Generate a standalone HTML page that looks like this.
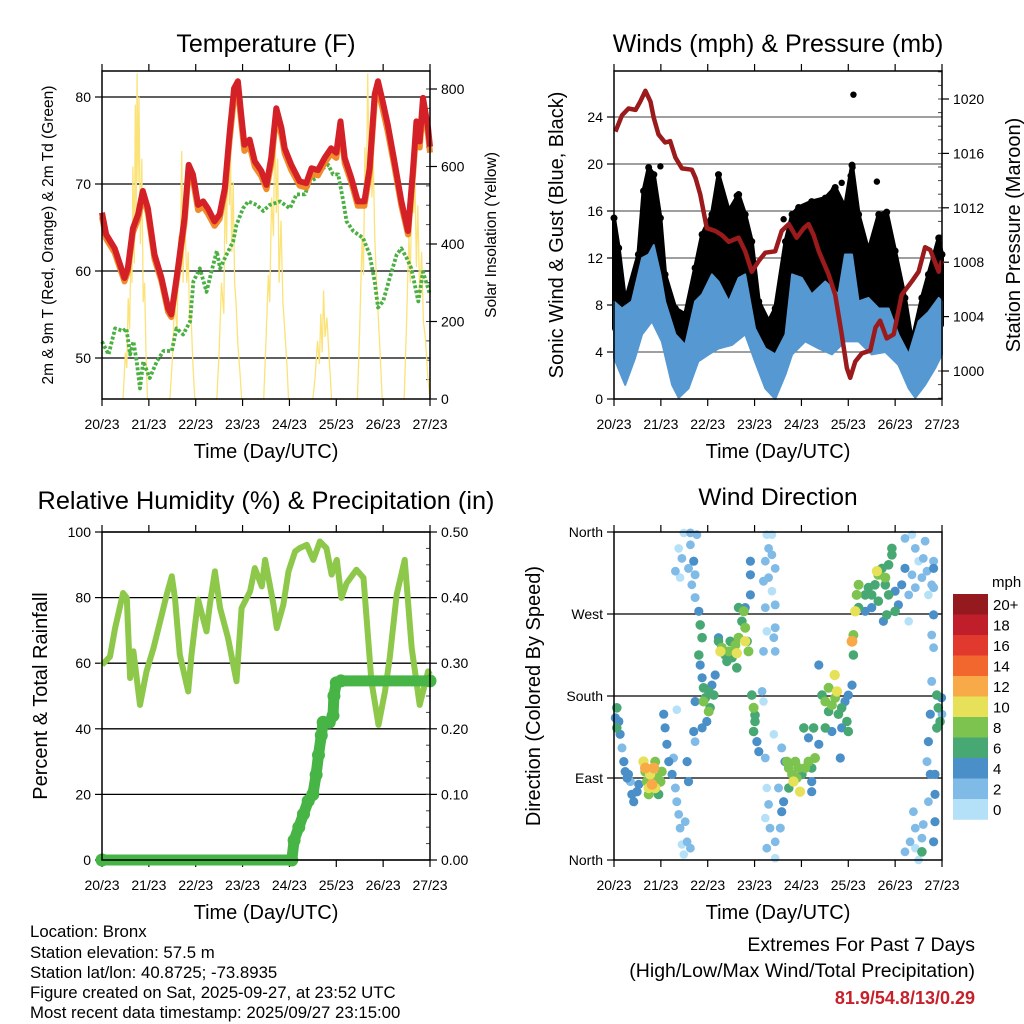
<!DOCTYPE html>
<html><head><meta charset="utf-8">
<style>
html,body{margin:0;padding:0;background:#fff;}
svg{display:block;font-family:"Liberation Sans",Arial,sans-serif;}
</style></head>
<body>
<svg id="chart" xmlns="http://www.w3.org/2000/svg" width="1024" height="1024" viewBox="0 0 1024 1024">
<rect width="1024" height="1024" fill="#fff"/>
<g id="g-temp"></g>
<g id="g-wind"></g>
<g id="g-rh"></g>
<g id="g-dir"></g>
<g font-size="16.8" fill="#000">
<text x="30" y="937">Location: Bronx</text>
<text x="30" y="958">Station elevation: 57.5 m</text>
<text x="30" y="978">Station lat/lon: 40.8725; -73.8935</text>
<text x="30" y="998">Figure created on Sat, 2025-09-27, at 23:52 UTC</text>
<text x="30" y="1018">Most recent data timestamp: 2025/09/27 23:15:00</text>
</g>
<g text-anchor="end">
<text x="975" y="951" font-size="19.5">Extremes For Past 7 Days</text>
<text x="975" y="977" font-size="19.5">(High/Low/Max Wind/Total Precipitation)</text>
<text x="975" y="1004" font-size="18" font-weight="bold" fill="#c8202b">81.9/54.8/13/0.29</text>
</g>
</svg>
<script>
// ---------- data ----------
const dayTicks = ["20/23","21/23","22/23","23/23","24/23","25/23","26/23","27/23"];
// Temperature
const tDay = [0,0.09,0.27,0.48,0.55,0.66,0.77,0.87,0.98,1.12,1.27,1.41,1.48,1.62,1.76,1.85,1.94,2.05,2.16,2.26,2.40,2.51,2.62,2.72,2.82,2.90,2.97,3.04,3.15,3.26,3.40,3.51,3.61,3.72,3.83,3.90,4.04,4.22,4.36,4.47,4.61,4.75,4.89,5.00,5.09,5.18,5.32,5.46,5.60,5.71,5.82,5.89,5.99,6.10,6.24,6.39,6.53,6.64,6.71,6.78,6.85,6.96,7.0];
const t2m = [66.7,64.2,62.6,59.2,60.3,64.9,66.5,69.2,67.2,61.9,59.2,55.7,55,60.3,66.1,72.2,71.1,67.6,68,67.2,65.7,66.5,69.5,75.7,81,81.8,78,74.5,75.1,72.6,71.5,69.9,73,78.7,76.4,74.1,72.2,70.3,70.1,71.8,71.6,73,74.1,73.6,77.2,73,70.7,68,68,71.8,80.3,81.8,79.5,76.8,72.6,68,64.6,71.8,77.2,74.9,79.9,76.4,74.3];
const t9m = [66.2,63.7,62.1,58.8,59.9,64.4,66,68.6,66.7,61.4,58.8,55.3,54.7,59.8,65.5,71.5,70.5,67,67.4,66.6,65.2,66,69,74.9,80,80.8,77.1,73.8,74.4,72,70.9,69.4,72.3,77.9,75.6,73.5,71.6,69.8,69.6,71.2,71,72.4,73.5,73,76.5,72.4,70.2,67.5,67.5,71.2,79.4,80.8,78.6,76,72,67.5,64.2,71.1,76.4,74.2,79,75.6,73.6];
const tdDay = [0,0.14,0.28,0.45,0.52,0.6,0.67,0.74,0.81,0.88,1.02,1.17,1.31,1.49,1.59,1.73,1.88,1.95,2.09,2.23,2.34,2.45,2.52,2.66,2.80,2.87,3.01,3.12,3.30,3.44,3.58,3.80,4.01,4.15,4.33,4.44,4.58,4.72,4.83,4.93,5.04,5.15,5.22,5.36,5.57,5.71,5.82,5.89,6.0,6.14,6.29,6.39,6.50,6.60,6.75,6.85,6.96,7.0];
const tdVal = [51.9,50.4,53.4,53.1,53.4,50.4,51.9,49.6,46.5,49.6,47.7,49.6,50.8,50.8,53.4,52.7,54.2,58.8,60.3,57.6,60,62.3,60.3,61.9,63.4,65.3,67.2,68,67.6,66.9,67.6,68,67.2,68.8,68.8,70.3,70.7,71.8,72.2,71.1,71.1,68,65.7,64.6,63.8,61.9,58.8,55.8,56.5,59.2,61.9,62.6,61.5,60.3,56.5,59.9,58,57.3];
const solDay = [0.45,0.5,0.53,0.56,0.59,0.62,0.64,0.66,0.69,0.71,0.73,0.75,0.77,0.79,0.82,0.85,0.88,0.91,0.94,0.97,
 1.45,1.5,1.55,1.6,1.64,1.67,1.7,1.73,1.76,1.78,1.81,1.84,1.87,1.9,1.94,1.98,
 2.45,2.5,2.55,2.6,2.63,2.66,2.69,2.72,2.74,2.77,2.8,2.83,2.86,2.9,2.95,2.98,
 3.45,3.5,3.55,3.58,3.62,3.66,3.69,3.72,3.75,3.78,3.82,3.86,3.9,3.95,3.98,
 4.5,4.55,4.6,4.64,4.67,4.7,4.73,4.76,4.8,4.85,4.9,
 5.45,5.5,5.55,5.58,5.61,5.64,5.67,5.7,5.73,5.76,5.79,5.82,5.86,5.9,5.95,5.98,
 6.45,6.5,6.55,6.58,6.62,6.65,6.68,6.71,6.74,6.78,6.82,6.86,6.9,6.95,7.0];
const solVal = [0,120,80,260,180,420,300,600,350,760,480,840,560,780,400,620,250,300,120,0,
 0,100,250,180,420,350,640,300,560,420,300,380,200,220,90,0,
 0,120,300,220,560,400,720,500,650,380,560,300,250,140,60,0,
 0,150,320,250,520,420,740,480,620,300,460,250,180,80,0,
 0,60,150,90,220,120,280,160,210,100,0,
 0,180,420,320,650,500,840,600,720,520,620,420,300,200,80,0,
 0,200,420,300,610,480,560,340,500,260,380,200,160,60,0];
// Winds & pressure
const pDay = [0.03,0.17,0.31,0.46,0.56,0.67,0.78,0.85,0.95,1.09,1.20,1.31,1.45,1.66,1.74,1.84,1.98,2.16,2.30,2.45,2.66,2.80,2.94,3.09,3.23,3.44,3.58,3.73,3.90,4.05,4.15,4.26,4.37,4.58,4.72,4.86,4.97,5.04,5.15,5.29,5.47,5.58,5.68,5.82,5.97,6.14,6.36,6.50,6.64,6.75,6.93,7.0];
const pVal = [1017.6,1018.8,1019.3,1019.2,1019.8,1020.6,1019.8,1018.6,1017.4,1016.8,1016.9,1015.7,1014.9,1014.8,1014.2,1013,1010.5,1010.3,1010.0,1009.5,1009.8,1008.8,1007.3,1008.1,1008.7,1008.8,1010.3,1010.8,1009.8,1010.5,1010.8,1010.0,1008.8,1007.1,1005.6,1002.7,1000.2,999.5,1000.7,1001.3,1001.5,1003.2,1003.7,1002.4,1002.7,1005.6,1006.6,1007.3,1009.1,1008.9,1007.3,1008.1];
const wHiDay = [0,0.17,0.38,0.6,0.74,0.85,0.99,1.09,1.31,1.52,1.73,1.88,2.09,2.23,2.45,2.66,2.80,3.01,3.23,3.44,3.66,3.80,4.01,4.22,4.51,4.79,4.93,5.08,5.22,5.43,5.65,5.86,6.07,6.29,6.50,6.71,6.93,7.0];
const wHiVal = [8.3,7.7,8.3,12,12.3,13.1,10.6,8.3,5.5,4.6,8.3,8.9,10.6,10,8.3,10.3,10.6,6.0,4.3,3.8,5.5,10.6,10.3,8.9,10,8.9,12.3,12.3,8.3,8.6,7.7,7.7,5.5,3.8,6.6,7.4,8.6,8.3];
const wLoDay = [0,0.24,0.45,0.6,0.81,1.02,1.24,1.38,1.59,1.80,2.02,2.23,2.52,2.80,3.01,3.23,3.44,3.66,3.80,4.08,4.37,4.65,4.93,5.22,5.50,5.79,6.07,6.29,6.43,6.64,6.85,7.0];
const wLoVal = [3.5,1.2,3.5,5.5,6.6,4.9,1.2,0.1,0.9,3.2,3.8,4.3,4.6,5.5,3.2,0.9,0,2.1,3.8,4.9,4.3,3.8,4.9,4.9,3.8,4.0,2.9,0.9,0.1,1.2,2.6,3.8];
const gDay = [0,0.1,0.24,0.52,0.63,0.74,0.85,0.99,1.09,1.31,1.52,1.73,1.88,2.09,2.23,2.45,2.66,2.80,2.94,3.09,3.30,3.44,3.66,3.80,3.94,4.22,4.51,4.72,4.93,5.08,5.22,5.43,5.65,5.82,6.0,6.21,6.36,6.57,6.71,6.93,7.0];
const gVal = [15.4,12.85,8.3,12.3,17.7,19.7,19.1,15.4,10.6,7.7,7.2,11.15,14,15.7,19.1,16,17.4,15.7,13.4,8.3,6.6,7.7,13.4,15.7,16.3,16.8,17.1,18,16.3,19.9,15.7,12.6,15.7,15.9,12.6,8.6,4.9,8.6,10.6,13.7,12.3];
const gOutDay = [5.11,5.61,4.86,4.69,5.09,5.05,2.27,2.62,0.99,3.62];
const gOutVal = [25.9,18.5,18.4,17.8,19.7,19.0,18.0,17.3,19.8,15.3];
// Humidity & precip
const rhDay = [0,0.17,0.28,0.45,0.53,0.60,0.67,0.81,0.95,1.10,1.24,1.38,1.49,1.56,1.66,1.84,1.91,2.05,2.23,2.30,2.41,2.52,2.69,2.87,2.98,3.16,3.26,3.41,3.48,3.66,3.73,3.87,3.98,4.12,4.22,4.37,4.51,4.65,4.79,4.90,5.01,5.11,5.22,5.43,5.58,5.75,5.90,6.04,6.14,6.29,6.46,6.61,6.78,6.96,7.0];
const rhVal = [59.5,62,70.7,81.4,79.9,55.5,63.6,47.3,57.5,64.6,72.7,80.9,86.5,79.4,62.6,51.4,62.6,79.4,69.7,77.8,88,76.8,67.7,54.5,76.8,81.9,89,83.4,91.5,77.8,70.7,77.8,88,94.1,95.1,96.1,91.5,97.1,95.1,87,91.5,79.9,84.4,88.5,86,54.5,41.2,51.4,61.6,80.9,91.5,64.6,47.3,57.5,56.5];
const prDay = [0,4.05,4.1,4.2,4.3,4.4,4.5,4.57,4.62,4.68,4.72,4.85,4.93,4.95,5.0,5.1,7.0];
const prVal = [0,0,0.03,0.05,0.07,0.09,0.10,0.13,0.16,0.19,0.21,0.21,0.22,0.25,0.27,0.273,0.273];
// Wind direction
const dirDay = [0.06,0.06,0.10,0.03,0.13,0.17,0.21,0.24,0.28,0.31,0.35,0.38,0.42,0.49,0.53,
0.63,0.67,0.70,0.74,0.77,0.81,0.85,0.88,0.92,0.95,0.99,1.02,0.67,0.88,0.74,
1.06,1.09,1.13,1.17,1.24,1.27,1.31,1.34,1.38,1.41,1.45,1.49,1.56,1.63,1.52,1.59,1.56,1.34,
1.49,1.63,1.38,1.45,1.31,1.41,1.59,1.66,1.73,1.63,1.70,1.73,1.77,
1.81,1.84,1.88,1.81,1.84,1.88,1.91,1.95,2.02,2.09,2.05,1.98,1.88,1.70,2.13,1.91,2.02,2.16,1.73,1.73,
2.23,2.30,2.37,2.45,2.52,2.59,2.66,2.73,2.80,2.84,2.87,2.66,2.62,2.27,2.62,2.48,2.41,2.80,2.77,2.23,2.80,
2.91,2.91,2.91,2.94,2.98,3.01,2.98,3.05,3.09,3.01,3.16,3.23,3.19,
3.26,3.30,3.23,3.37,3.44,3.30,3.37,3.44,3.19,3.44,3.41,3.44,3.23,3.26,3.19,3.37,
3.26,3.30,3.23,3.33,3.26,3.44,3.44,3.55,3.58,3.51,3.62,3.65,3.58,3.41,
3.69,3.73,3.80,3.87,3.94,3.83,3.97,3.90,3.73,4.01,4.08,4.15,4.22,4.29,4.22,4.22,4.26,4.05,4.37,4.15,
4.44,4.51,4.58,4.65,4.72,4.76,4.71,4.79,4.86,4.93,4.97,5.00,5.08,4.51,4.65,4.83,4.86,5.00,4.37,4.58,
5.08,5.11,5.11,5.15,5.22,5.18,5.22,5.36,5.43,5.50,5.57,5.64,5.61,5.72,5.79,5.86,5.93,5.93,5.79,5.64,5.50,5.36,5.86,6.00,6.07,6.00,5.75,5.82,6.14,6.21,
6.21,6.36,6.43,6.50,6.36,6.64,6.60,6.68,6.78,6.82,6.71,6.29,6.43,6.57,6.29,6.82,6.82,
6.82,6.78,6.82,6.78,6.75,6.71,6.68,6.75,6.85,6.89,6.92,6.99,6.96,6.89,7.0,
6.39,6.43,6.32,6.21,6.43,6.57,6.60,6.71,6.85,6.85,6.82,6.57,6.50];
const dirDeg = [167,145,152,156,138,123,108,97,90,94,86,72,64,75,83,
108,97,86,72,94,83,101,79,90,72,86,97,101,108,79,
160,145,127,108,94,112,79,64,50,35,17,6,20,13,42,86,108,165,
359,359,342,331,317,310,320,302,313,346,328,288,357,
273,258,244,225,214,200,189,178,185,192,167,152,145,141,181,174,163,203,174,130,
240,233,225,229,222,236,244,262,255,240,229,277,211,229,227,240,218,240,273,244,277,
328,313,291,181,167,152,141,130,119,159,185,112,174,
357,342,328,335,320,310,295,280,306,255,244,229,277,251,229,357,
79,61,46,35,13,2,20,35,53,79,64,108,123,138,
108,101,94,108,101,86,75,90,79,94,101,108,101,112,86,75,145,145,127,134,
181,174,163,170,178,185,203,160,167,174,152,181,192,145,141,112,145,141,214,189,
240,247,225,273,277,291,302,291,299,291,302,313,317,320,310,324,335,342,302,284,277,273,291,295,280,273,262,269,302,320,
353,357,342,328,313,350,331,317,302,328,291,291,299,310,262,320,299,
269,247,233,196,160,130,108,94,94,145,167,178,152,181,160,
53,35,20,9,13,24,39,64,72,42,20,9,0];
const dirSpd = [6,6,5,4,4,3,4,4,4,4,3,4,4,5,4,
10,9,8,8,10,12,12,10,8,7,9,8,12,8,10,
4,4,4,4,4,3,3,3,2,2,1,1,2,2,2,4,4,1,
1,2,1,2,2,1,3,2,3,2,4,3,2,
4,6,6,6,4,4,6,6,6,4,6,4,4,4,6,8,8,4,4,2,
6,8,6,8,6,8,8,6,8,6,8,6,6,10,10,6,6,10,8,4,4,
4,4,4,6,8,6,6,4,4,6,2,2,1,
1,2,2,2,2,2,1,3,3,3,2,2,2,1,2,1,
1,2,1,2,2,1,2,3,4,3,4,4,3,1,
8,8,8,8,8,10,10,8,6,6,8,8,6,8,4,4,6,6,4,4,
6,8,6,8,8,10,10,6,6,4,6,4,4,6,4,4,4,6,4,8,
12,8,6,10,6,8,8,6,6,6,6,8,10,6,8,6,6,6,6,6,4,4,6,4,4,6,4,6,4,4,
2,1,2,1,2,2,2,2,2,3,1,2,2,2,1,4,3,
4,2,2,3,4,4,3,4,4,6,6,4,6,6,2,
2,2,2,2,1,2,2,2,4,4,4,6,1];
const spdColors = ["#b5e1f8","#7fbbe6","#4a8fc8","#48a873","#7dc34f","#e7e159","#f8aa48","#f2672e","#e2392f","#c01e2b","#951a1f"];
const spdLabels = ["0","2","4","6","8","10","12","14","16","18","20+"];

// ---------- helpers ----------
const NS = "http://www.w3.org/2000/svg";
function mk(parent, tag, attrs, txt){
  const e = document.createElementNS(NS, tag);
  for (const k in attrs) e.setAttribute(k, attrs[k]);
  if (txt !== undefined) e.textContent = txt;
  parent.appendChild(e);
  return e;
}
function linScale(d0,d1,r0,r1){ return v => r0 + (v-d0)*(r1-r0)/(d1-d0); }
function pathFrom(xs, ys, fx, fy){
  let s = "";
  for (let i=0;i<xs.length;i++) s += (i?"L":"M") + fx(xs[i]).toFixed(1) + "," + fy(ys[i]).toFixed(1);
  return s;
}
function frame(g, L, T, R, B, opts){
  const fx = linScale(0,7,L,R);
  dayTicks.forEach((lab,i)=>{
    const x = fx(i);
    const tk = mk(g,"line",{x1:x,y1:B,x2:x,y2:B+7,stroke:"#000","stroke-width":1.2});
    
    
    const tt = mk(g,"line",{x1:x,y1:T,x2:x,y2:T-7,stroke:"#000","stroke-width":1.2});
    
    
    const tl = mk(g,"text",{x:x,y:B+30,"font-size":14,"text-anchor":"middle"},lab);
    
    
  });
  const xt = mk(g,"text",{x:(L+R)/2,y:B+59,"font-size":20,"text-anchor":"middle"},"Time (Day/UTC)");
  
  
  const tt2 = mk(g,"text",{x:(L+R)/2,y:opts.titleY,"font-size":opts.titleSize,"text-anchor":"middle"},opts.title);
  
  
  return fx;
}
function leftAxis(g, L, fy, ticks, labels, R, gridColor){
  ticks.forEach((v,i)=>{
    const y = fy(v);
    if (gridColor){
      const gl = mk(g,"line",{x1:L,y1:y,x2:R,y2:y,stroke:gridColor,"stroke-width":1.3});
      
      
    }
    const tk = mk(g,"line",{x1:L-7,y1:y,x2:L,y2:y,stroke:"#000","stroke-width":1.2});
    
    
    const tl = mk(g,"text",{x:L-11,y:y+5,"font-size":14,"text-anchor":"end"},labels[i]);
    
    
  });
}
function rightAxis(g, R, fy, ticks, labels, minor){
  ticks.forEach((v,i)=>{
    const y = fy(v);
    const tk = mk(g,"line",{x1:R,y1:y,x2:R+7,y2:y,stroke:"#000","stroke-width":1.2});
    
    
    const tl = mk(g,"text",{x:R+11,y:y+5,"font-size":14},labels[i]);
    
    
  });
  minor.forEach(v=>{
    const y = fy(v);
    const mt = mk(g,"line",{x1:R-4,y1:y,x2:R,y2:y,stroke:"#444","stroke-width":1});
    
    
  });
}
function border(g,L,T,R,B){
  const b = mk(g,"rect",{x:L,y:T,width:R-L,height:B-T,fill:"none",stroke:"#000","stroke-width":1.5});
  
  
}
function yTitle(g,x,y,size,txt,name){
  const t = mk(g,"text",{x:0,y:0,"font-size":size,"text-anchor":"middle",transform:`translate(${x},${y}) rotate(-90)`},txt);
  
  
}

// ---------- Panel 1: temperature ----------
(function(){
  const g = document.getElementById("g-temp");
  const L=102,T=71,R=430,B=399;
  const fx = frame(g,L,T,R,B,{title:"Temperature (F)",titleY:52,titleSize:25});
  const fy = linScale(50,80,358,97);
  const fs = linScale(0,800,399,89);
  leftAxis(g,L,fy,[50,60,70,80],["50","60","70","80"],R,"#000");
  const sMinor=[]; for(let v=0; v<=840; v+=50) sMinor.push(v);
  rightAxis(g,R,fs,[0,200,400,600,800],["0","200","400","600","800"],sMinor);
  const sol = mk(g,"path",{d:pathFrom(solDay,solVal,fx,fs),fill:"none",stroke:"#fbe37a","stroke-width":1.3});
  
  
  const dp = mk(g,"path",{d:pathFrom(tdDay,tdVal,fx,fy),fill:"none",stroke:"#4bb043","stroke-width":3.8,"stroke-dasharray":"3 2","stroke-linejoin":"round"});
  
  
  const o = mk(g,"path",{d:pathFrom(tDay,t9m,fx,fy),fill:"none",stroke:"#f08a2a","stroke-width":6,"stroke-linejoin":"round"});
  
  
  const r = mk(g,"path",{d:pathFrom(tDay,t2m,fx,fy),fill:"none",stroke:"#d42127","stroke-width":6,"stroke-linejoin":"round"});
  
  
  border(g,L,T,R,B);
  yTitle(g,53,235,15.5,"2m & 9m T (Red, Orange) & 2m Td (Green)","y-axis-title");
  yTitle(g,496,235,15.5,"Solar Insolation (Yellow)","y2-axis-title");
})();

// ---------- Panel 2: winds & pressure ----------
(function(){
  const g = document.getElementById("g-wind");
  const L=614,T=71,R=942,B=399;
  const fx = frame(g,L,T,R,B,{title:"Winds (mph) & Pressure (mb)",titleY:52,titleSize:25});
  const fy = linScale(0,24,399,117);
  const fp = linScale(1000,1020,371,99);
  leftAxis(g,L,fy,[0,4,8,12,16,20,24],["0","4","8","12","16","20","24"],R,"#666");
  const pMinor=[]; for(let v=998; v<=1022; v+=1) pMinor.push(v);
  rightAxis(g,R,fp,[1000,1004,1008,1012,1016,1020],["1000","1004","1008","1012","1016","1020"],pMinor);
  let d = pathFrom(gDay,gVal,fx,fy);
  for (let i=wLoDay.length-1;i>=0;i--) d += "L"+fx(wLoDay[i]).toFixed(1)+","+fy(Math.min(wLoVal[i]+2.5,13)).toFixed(1);
  const gb = mk(g,"path",{d:d+"Z",fill:"#000","stroke":"#000","stroke-width":4,"stroke-linejoin":"round"});
  
  
  gOutDay.forEach((dd,i)=>{
    const c = mk(g,"circle",{cx:fx(dd),cy:fy(gOutVal[i]),r:3.2,fill:"#000"});
    
    
  });
  gDay.forEach((dd,i)=>{
    const c = mk(g,"circle",{cx:fx(dd),cy:fy(gVal[i]),r:3.5,fill:"#000"});
    
    
  });
  let w = pathFrom(wHiDay,wHiVal,fx,fy);
  for (let i=wLoDay.length-1;i>=0;i--) w += "L"+fx(wLoDay[i]).toFixed(1)+","+fy(wLoVal[i]).toFixed(1);
  const wb = mk(g,"path",{d:w+"Z",fill:"#5598d2",stroke:"#5598d2","stroke-width":2,"stroke-linejoin":"round"});
  
  
  const p = mk(g,"path",{d:pathFrom(pDay,pVal,fx,fp),fill:"none",stroke:"#9b1a1c","stroke-width":4.5,"stroke-linejoin":"round"});
  
  
  border(g,L,T,R,B);
  yTitle(g,563,235,20,"Sonic Wind & Gust (Blue, Black)","y-axis-title");
  yTitle(g,1020,235,20,"Station Pressure (Maroon)","y2-axis-title");
})();

// ---------- Panel 3: RH & precip ----------
(function(){
  const g = document.getElementById("g-rh");
  const L=102,T=532,R=430,B=860;
  const fx = frame(g,L,T,R,B,{title:"Relative Humidity (%) & Precipitation (in)",titleY:509,titleSize:25.3});
  const fy = linScale(0,100,860,532);
  const fp = linScale(0,0.5,860,532);
  leftAxis(g,L,fy,[0,20,40,60,80,100],["0","20","40","60","80","100"],R,"#000");
  const pm=[]; for(let v=0; v<=0.5001; v+=0.025) pm.push(v);
  rightAxis(g,R,fp,[0,0.1,0.2,0.3,0.4,0.5],["0.00","0.10","0.20","0.30","0.40","0.50"],pm);
  const rh = mk(g,"path",{d:pathFrom(rhDay,rhVal,fx,fy),fill:"none",stroke:"#8dc84b","stroke-width":6,"stroke-linejoin":"round"});
  
  
  const pr = mk(g,"path",{d:pathFrom(prDay,prVal,fx,fp),fill:"none",stroke:"#47b446","stroke-width":11,"stroke-linejoin":"round","stroke-linecap":"round"});
  
  
  prDay.forEach((dd,i)=>{
    const c = mk(g,"circle",{cx:fx(dd),cy:fp(prVal[i]),r:6.5,fill:"#47b446"});
    
    
  });
  border(g,L,T,R,B);
  yTitle(g,47,696,20,"Percent & Total Rainfall","y-axis-title");
})();

// ---------- Panel 4: wind direction ----------
(function(){
  const g = document.getElementById("g-dir");
  const L=614,T=532,R=942,B=860;
  const fx = frame(g,L,T,R,B,{title:"Wind Direction",titleY:505,titleSize:24.5});
  const fy = linScale(0,360,860,532);
  leftAxis(g,L,fy,[0,90,180,270,360],["North","East","South","West","North"],R,null);
  [90,180,270].forEach(v=>{
    const gl = mk(g,"line",{x1:L,y1:fy(v),x2:R,y2:fy(v),stroke:"#000","stroke-width":1.3});
    
    
  });
  const idx = dirDay.map((_,i)=>i).sort((a,b)=>dirSpd[a]-dirSpd[b]);
  idx.forEach(i=>{
    const bin = Math.min(10, Math.floor(dirSpd[i]/2));
    const c = mk(g,"circle",{cx:fx(dirDay[i]).toFixed(1),cy:fy(dirDeg[i]).toFixed(1),r:(4.2+dirSpd[i]*0.1).toFixed(2),fill:spdColors[bin]});
    
    
  });
  border(g,L,T,R,B);
  yTitle(g,540,696,20,"Direction (Colored By Speed)","y-axis-title");
  const cb = mk(g,"g",{});
  
  
  const top=594, h=20.5;
  for (let k=0;k<11;k++){
    const j = 10-k;
    const r = mk(cb,"rect",{x:953,y:top+k*h,width:35,height:h+0.3,fill:spdColors[j]});
    
    
    const t = mk(cb,"text",{x:993,y:top+k*h+h/2+5.5,"font-size":15},spdLabels[j]);
    
    
  }
  const mph = mk(cb,"text",{x:992,y:587,"font-size":15},"mph");
  
  
})();
</script>
</body></html>
